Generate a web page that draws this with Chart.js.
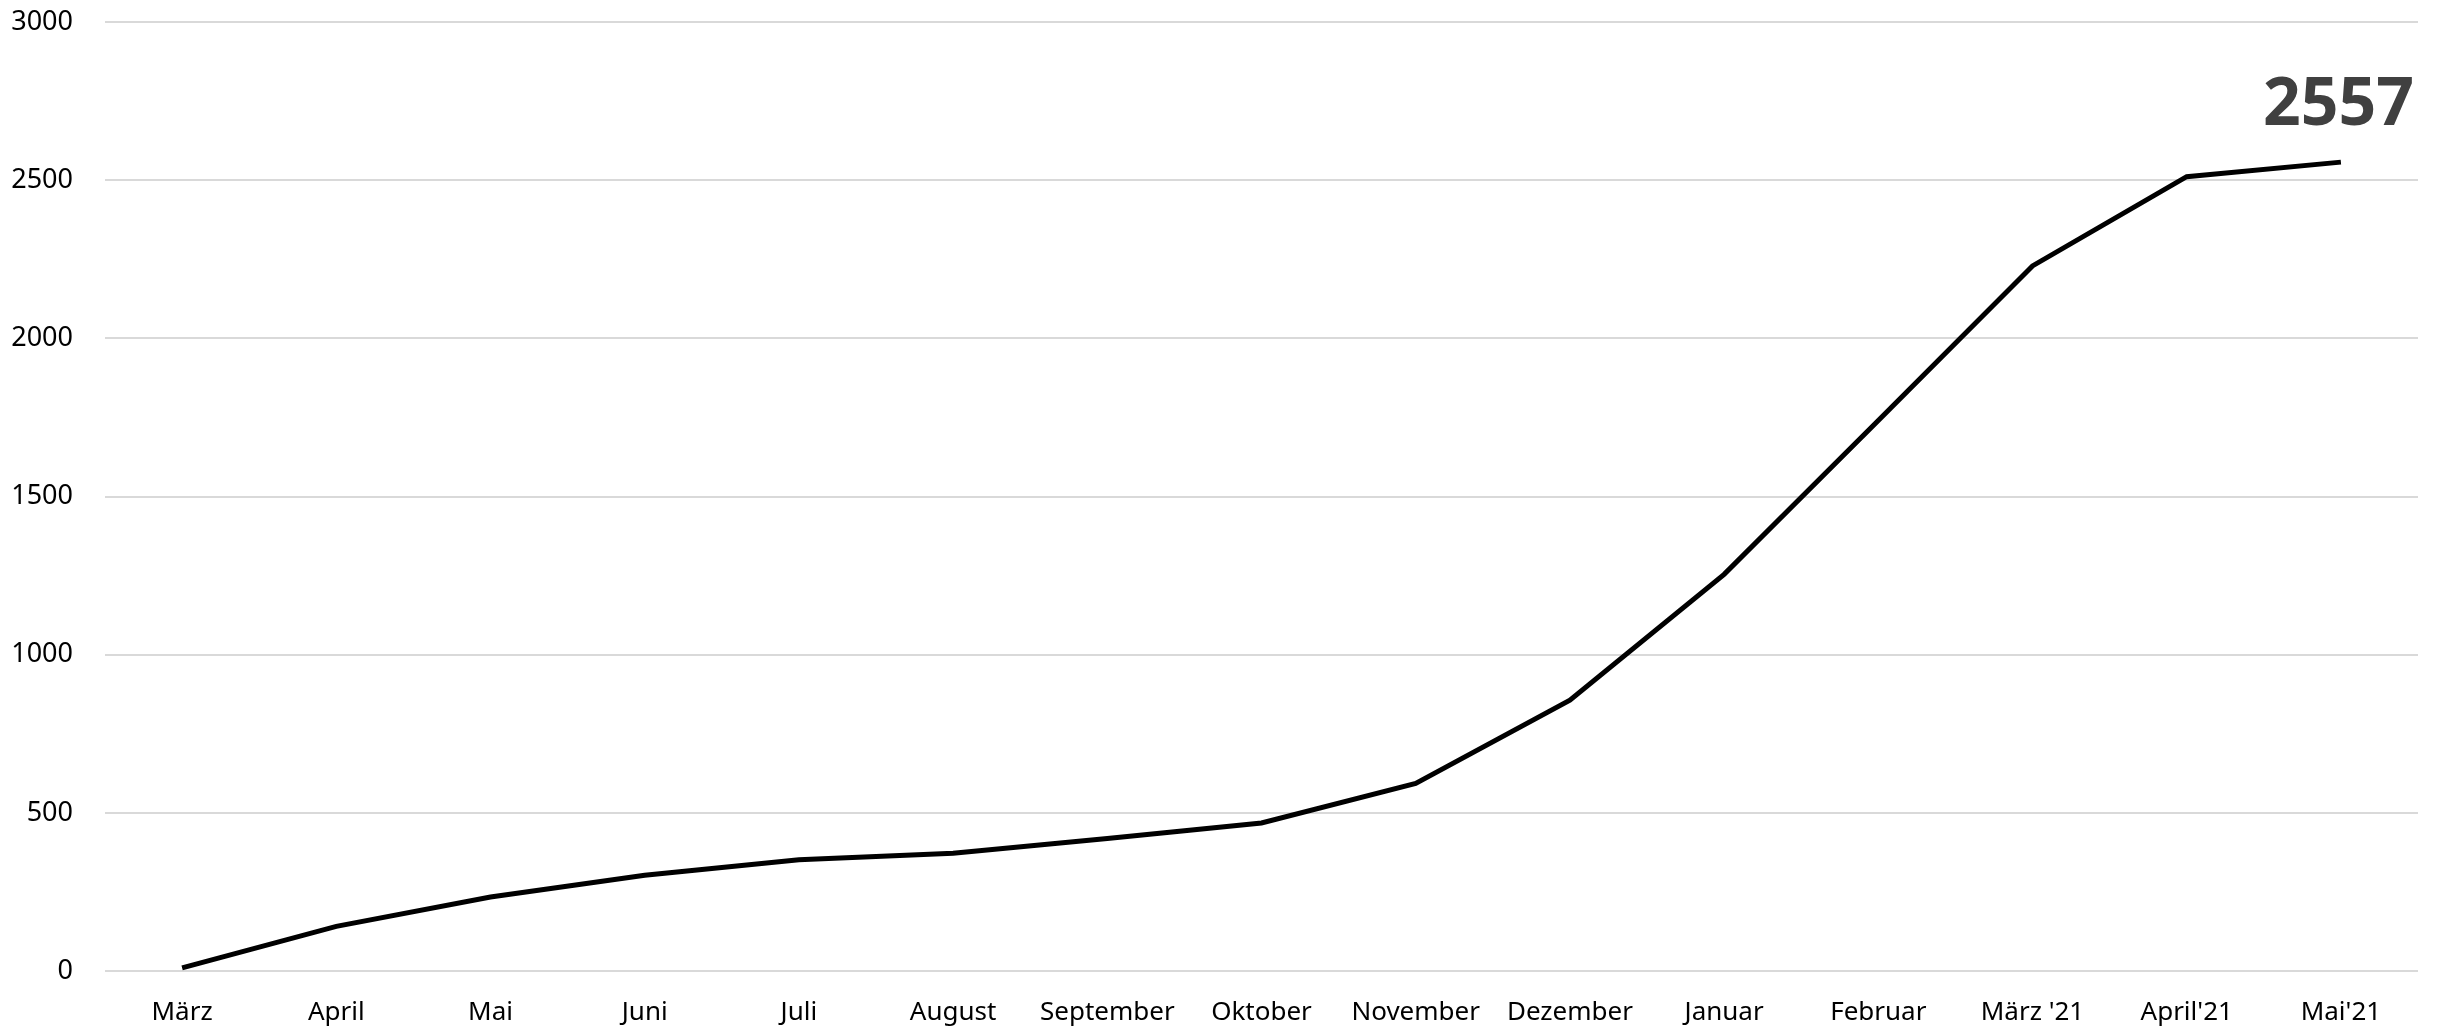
<!DOCTYPE html>
<html>
<head>
<meta charset="utf-8">
<script src="https://cdn.jsdelivr.net/npm/chart.js@4"></script>
<style>
  html, body { margin: 0; padding: 0; background: #fff; }
  .wrap { width: 2438px; height: 1028px; position: relative; }
</style>
</head>
<body>
<div class="wrap"><canvas id="myChart"></canvas></div>
<script>
// months shown on the x axis
const months = ['März', 'April', 'Mai', 'Juni', 'Juli', 'August', 'September', 'Oktober',
  'November', 'Dezember', 'Januar', 'Februar', "März '21", "April'21", "Mai'21"]
// running total
const totals = [10, 141, 234, 303, 352, 372, 419, 468, 593, 856, 1254, 1740, 2229, 2511, 2557]
const yTicks = [0, 500, 1000, 1500, 2000, 2500, 3000]

const fontFamily = '"Noto Sans", "Open Sans", sans-serif'

// writes the last value in big bold text above the end of the line
const lastValueLabel = {
    id: 'lastValueLabel',
    afterDatasetsDraw(chart) {
        const meta = chart.getDatasetMeta(0)
        const last = meta.data[meta.data.length - 1]
        const ctx = chart.ctx
        ctx.save()
        ctx.font = 'bold 66px ' + fontFamily
        ctx.fillStyle = '#404040'
        ctx.textAlign = 'right'
        ctx.textBaseline = 'alphabetic'
        ctx.fillText(String(totals[totals.length - 1]), chart.chartArea.right - 4, last.y - 37)
        ctx.restore()
    }
}

const ctx = document.getElementById('myChart').getContext('2d')
new Chart(ctx, {
    type: 'line',
    data: {
        labels: months,
        datasets: [{
            data: totals,
            borderColor: '#000',
            borderWidth: 5,
            pointRadius: 0,
            tension: 0,
            fill: false
        }]
    },
    options: {
        responsive: true,
        maintainAspectRatio: false,
        animation: false,
        devicePixelRatio: 1,
        layout: { padding: { top: 22, right: 20, left: 0, bottom: 0 } },
        plugins: { legend: { display: false }, tooltip: { enabled: false } },
        scales: {
            x: {
                offset: true,
                grid: { display: false, drawTicks: false },
                border: { display: false },
                ticks: {
                    color: '#000',
                    font: { family: fontFamily, size: 26 },
                    padding: 26,
                    maxRotation: 0,
                    autoSkip: false
                },
                afterFit(scale) {
                    scale.height = 57
                    scale.paddingLeft = 0
                    scale.paddingRight = 0
                }
            },
            y: {
                min: 0,
                max: 3000,
                afterBuildTicks(scale) { scale.ticks = yTicks.map(v => ({ value: v })) },
                grid: { color: '#d9d9d9', lineWidth: 2, drawTicks: false },
                border: { display: false },
                ticks: {
                    color: '#000',
                    font: { family: fontFamily, size: 27 },
                    padding: 32,
                    callback: v => String(v)
                },
                afterFit(scale) {
                    scale.width = 105
                    scale.paddingTop = 0
                    scale.paddingBottom = 0
                }
            }
        }
    },
    plugins: [lastValueLabel]
})
</script>
</body>
</html>
